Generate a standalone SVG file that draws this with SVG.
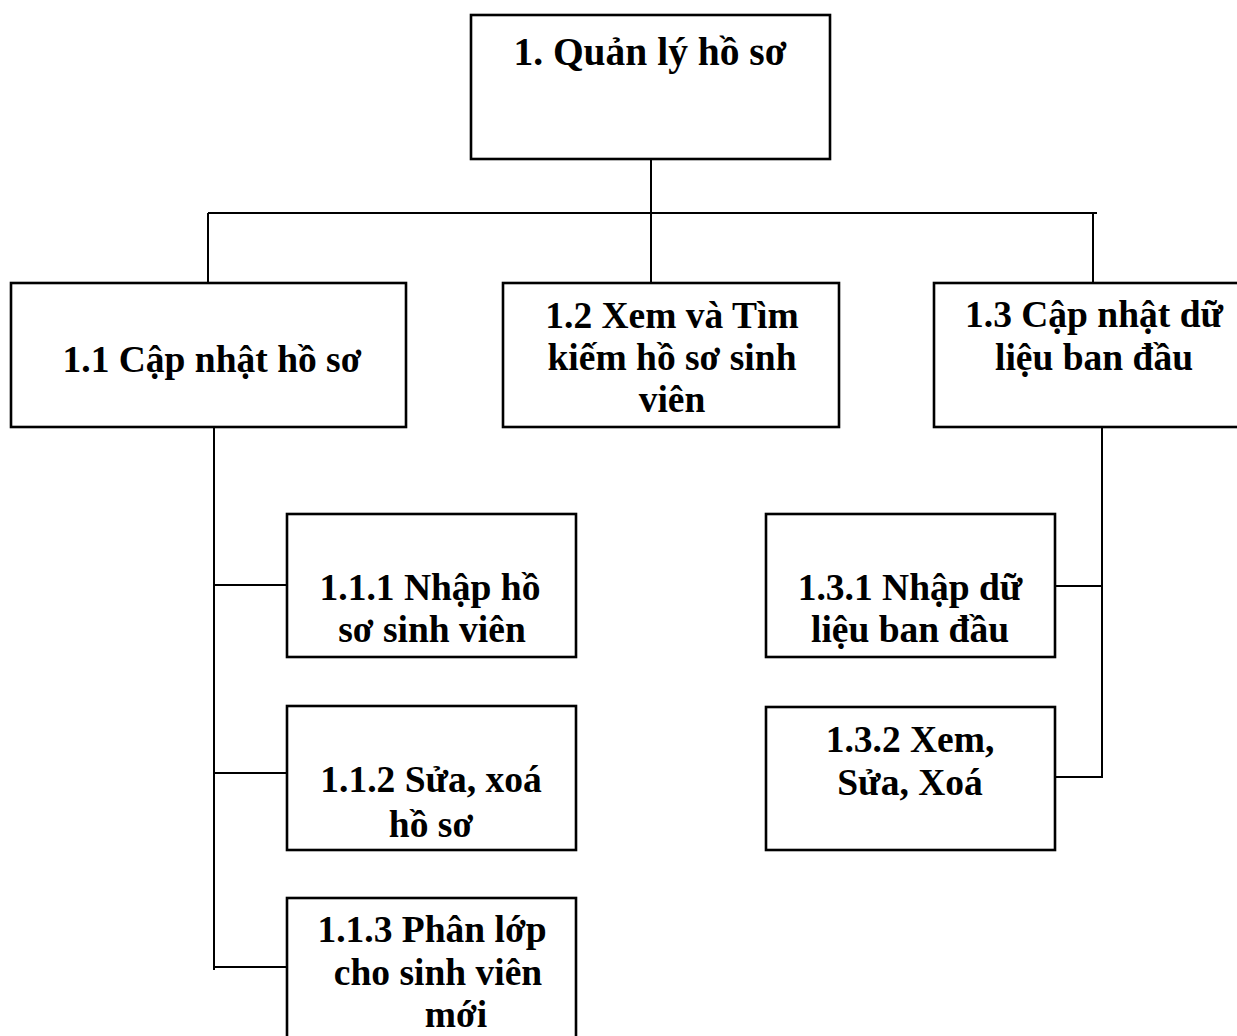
<svg xmlns="http://www.w3.org/2000/svg" width="1237" height="1036" viewBox="0 0 1237 1036">
  <style>
    .box { fill: #ffffff; stroke: #000000; stroke-width: 2.6; }
    .lbl { font-family: "Liberation Serif", "Times New Roman", serif; font-weight: bold; font-size: 37.5px; fill: #000000; text-anchor: middle; }
    .title { font-size: 39.5px; }
    .wire { stroke: #000000; stroke-width: 2; fill: none; }
  </style>
  <rect width="1237" height="1036" fill="#ffffff"/>

  <!-- tree connectors -->
  <g id="connectors">
    <line class="wire" x1="651" y1="159" x2="651" y2="283"/>
    <line class="wire" x1="208" y1="213" x2="1097" y2="213"/>
    <line class="wire" x1="208" y1="213" x2="208" y2="283"/>
    <line class="wire" x1="1093" y1="213" x2="1093" y2="283"/>
    <line class="wire" x1="214" y1="427" x2="214" y2="970"/>
    <line class="wire" x1="214" y1="585" x2="287" y2="585"/>
    <line class="wire" x1="214" y1="773" x2="287" y2="773"/>
    <line class="wire" x1="214" y1="967" x2="287" y2="967"/>
    <polyline class="wire" points="1055,586 1102,586"/>
    <polyline class="wire" points="1102,427 1102,777 1055,777"/>
  </g>

  <g id="n1">
    <rect class="box" x="471" y="15" width="359" height="144"/>
    <text class="lbl title" x="650" y="65">1. Quản lý hồ sơ</text>
  </g>

  <g id="n1_1">
    <rect class="box" x="11" y="283" width="395" height="144"/>
    <text class="lbl" x="212" y="372">1.1 Cập nhật hồ sơ</text>
  </g>

  <g id="n1_2">
    <rect class="box" x="503" y="283" width="336" height="144"/>
    <text class="lbl" x="672" y="328">1.2 Xem và Tìm</text>
    <text class="lbl" x="672" y="370">kiếm hồ sơ sinh</text>
    <text class="lbl" x="672" y="412">viên</text>
  </g>

  <g id="n1_3">
    <rect class="box" x="934" y="283" width="330" height="144"/>
    <text class="lbl" x="1094" y="327">1.3 Cập nhật dữ</text>
    <text class="lbl" x="1094" y="370">liệu ban đầu</text>
  </g>

  <g id="n1_1_1">
    <rect class="box" x="287" y="514" width="289" height="143"/>
    <text class="lbl" x="430" y="600">1.1.1 Nhập hồ</text>
    <text class="lbl" x="432" y="642">sơ sinh viên</text>
  </g>

  <g id="n1_1_2">
    <rect class="box" x="287" y="706" width="289" height="144"/>
    <text class="lbl" x="431" y="792">1.1.2 Sửa, xoá</text>
    <text class="lbl" x="431" y="837">hồ sơ</text>
  </g>

  <g id="n1_1_3">
    <rect class="box" x="287" y="898" width="289" height="200"/>
    <text class="lbl" x="432" y="942">1.1.3 Phân lớp</text>
    <text class="lbl" x="438" y="985">cho sinh viên</text>
    <text class="lbl" x="456" y="1027">mới</text>
  </g>

  <g id="n1_3_1">
    <rect class="box" x="766" y="514" width="289" height="143"/>
    <text class="lbl" x="910" y="600">1.3.1 Nhập dữ</text>
    <text class="lbl" x="910" y="642">liệu ban đầu</text>
  </g>

  <g id="n1_3_2">
    <rect class="box" x="766" y="707" width="289" height="143"/>
    <text class="lbl" x="910" y="752">1.3.2 Xem,</text>
    <text class="lbl" x="910" y="795">Sửa, Xoá</text>
  </g>
</svg>
